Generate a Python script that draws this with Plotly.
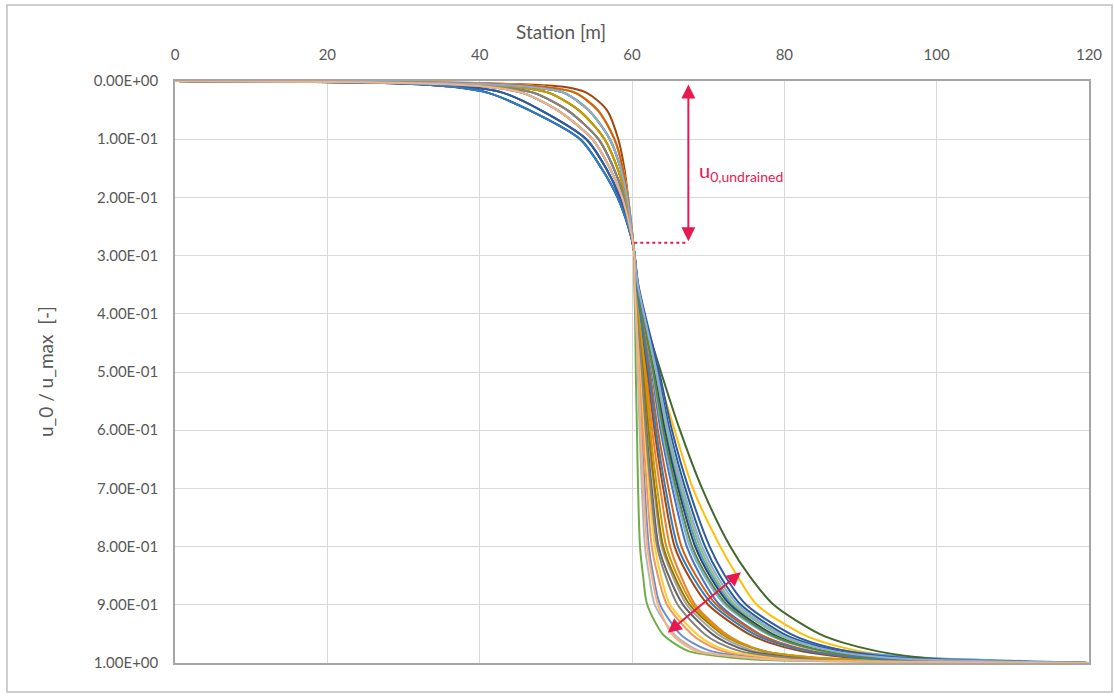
import plotly.graph_objects as go

# Ratio levels u_0/u_max at which each curve's station is recorded
levels = [0, 0.002, 0.005, 0.01, 0.02, 0.05, 0.10, 0.15, 0.20, 0.25, 0.29,
          0.35, 0.40, 0.50, 0.60, 0.70, 0.80, 0.85, 0.90, 0.95, 0.965,
          0.98, 0.99, 0.995, 1.0]

# Station [m] at which each curve reaches the levels above
s01 = [0, 22, 31, 36.5, 41, 46.5, 53.2, 56.0, 58.1, 59.5, 60.25, 60.66, 61.27, 62.6, 63.75, 65.3, 67.2, 69.0, 71.5, 76.7, 79.3, 83.5, 89.5, 95, 120]
s02 = [0, 25, 35.5, 42.5, 47, 51.5, 55.6, 57.6, 59.0, 59.8, 60.25, 60.53, 60.96, 61.85, 62.65, 63.7, 65.0, 66.4, 68.3, 72.3, 74.3, 77.5, 83.5, 91, 120]
s03 = [0, 24, 34, 41, 45.5, 50.2, 54.8, 57.1, 58.7, 59.7, 60.25, 60.47, 60.8, 61.5, 62.1, 62.9, 63.9, 65.3, 67.2, 71.2, 73.2, 76.3, 82.0, 89, 120]
s04 = [0, 29, 39.5, 46.5, 51, 54.3, 57.1, 58.5, 59.35, 59.9, 60.25, 60.7, 61.3, 63.3, 65.6, 68.0, 71.6, 73.8, 76.4, 82.3, 85.3, 90.0, 95, 100, 120]
s05 = [0, 23, 32.5, 38.5, 43, 48, 54.0, 56.6, 58.4, 59.6, 60.25, 60.73, 61.46, 63.04, 64.45, 66.3, 68.6, 70.5, 73.2, 79.5, 83.0, 88.5, 97, 107, 120]
s06 = [0, 27, 37.5, 44.5, 49, 53, 56.4, 58.1, 59.2, 59.85, 60.25, 60.31, 60.4, 60.5, 60.65, 60.8, 61.05, 61.45, 62.0, 64.0, 65.4, 67.5, 72.5, 78, 120]
s07 = [0, 22, 31, 36.5, 41, 46.5, 53.2, 56.0, 58.1, 59.5, 60.25, 60.72, 61.42, 62.94, 64.3, 66.06, 68.3, 70.2, 72.9, 78.4, 81.2, 85.6, 91.5, 98, 120]
s08 = [0, 34, 44, 51, 54, 56.7, 58.2, 59.0, 59.5, 59.95, 60.25, 60.57, 61.04, 62.05, 62.95, 64.1, 65.6, 67.4, 70.0, 75.3, 78.0, 82.3, 88, 95, 120]
s09 = [0, 24, 34, 41, 45.5, 50.2, 54.8, 57.1, 58.7, 59.7, 60.25, 60.45, 60.75, 61.36, 61.9, 62.6, 63.5, 64.8, 66.7, 70.5, 72.4, 75.5, 81.0, 88, 120]
s10 = [0, 27, 37.5, 44.5, 49, 53, 56.4, 58.1, 59.2, 59.85, 60.25, 60.48, 60.83, 61.55, 62.2, 63.0, 64.1, 65.55, 67.6, 71.8, 73.9, 77.4, 83.0, 90, 120]
s11 = [0, 23, 32.5, 38.5, 43, 48, 54.0, 56.6, 58.4, 59.6, 60.25, 60.79, 61.6, 63.37, 64.95, 67.0, 69.6, 71.55, 74.3, 79.9, 82.7, 87.3, 93, 100, 120]
s12 = [0, 25, 35.5, 42.5, 47, 51.5, 55.6, 57.6, 59.0, 59.8, 60.25, 60.75, 61.5, 63.8, 66.3, 69.2, 72.9, 75.4, 78.6, 84.6, 87.7, 92.3, 97.5, 102, 120]
s13 = [0, 29, 39.5, 46.5, 51, 54.3, 57.1, 58.5, 59.35, 59.9, 60.25, 60.38, 60.57, 60.93, 61.25, 61.67, 62.2, 62.8, 63.7, 66.3, 67.9, 70.5, 76.2, 82, 120]
s14 = [0, 31, 41.5, 48.5, 52.5, 55.5, 57.7, 58.8, 59.45, 59.92, 60.25, 60.4, 60.62, 61.06, 61.45, 61.96, 62.6, 63.4, 64.6, 67.8, 69.4, 72.0, 77.7, 84, 120]
s15 = [0, 31, 41.5, 48.5, 52.5, 55.5, 57.7, 58.8, 59.45, 59.92, 60.25, 60.35, 60.5, 60.76, 61.0, 61.3, 61.7, 62.25, 63.0, 65.5, 66.9, 69.0, 74.5, 80, 120]
s16 = [0, 31, 41.5, 48.5, 52.5, 55.5, 57.7, 58.8, 59.45, 59.92, 60.25, 60.42, 60.68, 61.2, 61.65, 62.25, 63.0, 63.8, 65.0, 68.5, 70.1, 72.8, 78.5, 85, 120]
s17 = [0, 24, 34, 41, 45.5, 50.2, 54.8, 57.1, 58.7, 59.7, 60.25, 60.68, 61.32, 62.7, 63.95, 65.56, 67.6, 69.5, 72.2, 77.7, 80.5, 85.0, 91, 98, 120]
s18 = [0, 29, 39.5, 46.5, 51, 54.3, 57.1, 58.5, 59.35, 59.9, 60.25, 60.75, 61.5, 63.14, 64.6, 66.5, 68.9, 70.8, 73.5, 79.0, 81.8, 86.3, 92.5, 100, 120]
s19 = [0, 23, 32.5, 38.5, 43, 48, 54.0, 56.6, 58.4, 59.6, 60.25, 60.83, 61.69, 63.57, 65.25, 67.43, 70.2, 72.2, 75.0, 80.8, 83.7, 88.4, 94.5, 101, 120]
s20 = [0, 31, 41.5, 48.5, 52.5, 55.5, 57.7, 58.8, 59.45, 59.92, 60.25, 60.62, 61.17, 62.35, 63.4, 64.8, 66.5, 68.4, 71.1, 76.6, 79.4, 83.8, 90, 97, 120]
s21 = [0, 25, 35.5, 42.5, 47, 51.5, 55.6, 57.6, 59.0, 59.8, 60.25, 60.44, 60.72, 61.3, 61.8, 62.45, 63.3, 64.4, 66.0, 69.5, 71.3, 74.3, 80.0, 87, 120]
s22 = [0, 27, 37.5, 44.5, 49, 53, 56.4, 58.1, 59.2, 59.85, 60.25, 60.51, 60.9, 61.7, 62.4, 63.3, 64.5, 65.95, 68.0, 72.0, 74.1, 77.5, 83.5, 91, 120]
s23 = [0, 22, 31, 36.5, 41, 46.5, 53.2, 56.0, 58.1, 59.5, 60.25, 60.59, 61.1, 62.2, 63.15, 64.4, 66.0, 67.9, 70.6, 76.0, 78.8, 83.2, 89, 96, 120]
s24 = [0, 29, 39.5, 46.5, 51, 54.3, 57.1, 58.5, 59.35, 59.9, 60.25, 60.7, 61.36, 62.8, 64.1, 65.8, 67.9, 69.8, 72.5, 78.0, 80.8, 85.3, 91.5, 99, 120]
s25 = [0, 29, 39.5, 46.5, 51, 54.3, 57.1, 58.5, 59.35, 59.9, 60.25, 60.77, 61.55, 63.25, 64.75, 66.7, 69.2, 71.15, 73.9, 79.4, 82.2, 86.7, 93, 100, 120]
s26 = [0, 24, 34, 41, 45.5, 50.2, 54.8, 57.1, 58.7, 59.7, 60.25, 60.37, 60.55, 60.86, 61.15, 61.5, 62.0, 62.6, 63.4, 65.2, 66.5, 68.5, 74.7, 81, 120]

curves = [s01, s02, s03, s04, s05, s06, s07, s08, s09, s10, s11, s12, s13,
          s14, s15, s16, s17, s18, s19, s20, s21, s22, s23, s24, s25, s26]

colors = ["#4472C4", "#ED7D31", "#A5A5A5", "#FFC000", "#5B9BD5", "#70AD47",
          "#264478", "#9E480E", "#636363", "#997300", "#255E91", "#43682B",
          "#698ED0", "#F1975A", "#B7B7B7", "#FFCD33", "#7CAFDD", "#8CC168",
          "#335AA1", "#D26012", "#848484", "#CC9A00", "#327DC2", "#5A8A39",
          "#8FAADC", "#F4B183"]

y_ticks = [0.0, 0.1, 0.2, 0.3, 0.4, 0.5, 0.6, 0.7, 0.8, 0.9, 1.0]
y_tick_text = ["0.00E+00", "1.00E-01", "2.00E-01", "3.00E-01", "4.00E-01", "5.00E-01",
               "6.00E-01", "7.00E-01", "8.00E-01", "9.00E-01", "1.00E+00"]

# Undrained pore pressure marker
u0_station = 67.4
u0_level = 0.278
u0_from = 60.3
# Spread arrow across the dissipation curves
spread_start = (64.5, 0.950)
spread_end = (74.3, 0.844)

FONT = "Lato"
TXT = "#595959"
RED = "#E8194F"

fig = go.Figure()
for stations, col in zip(curves, colors):
    fig.add_trace(go.Scatter(
        x=stations, y=levels, mode="lines",
        line=dict(color=col, width=2, shape="spline", smoothing=0.8),
        hoverinfo="skip", showlegend=False))

fig.update_layout(
    width=1114, height=696,
    margin=dict(l=175, r=25, t=81, b=33),
    paper_bgcolor="white", plot_bgcolor="white",
    font=dict(family=FONT, color=TXT, size=15),
    showlegend=False,
    xaxis=dict(
        side="top", range=[0, 120], tickvals=[0, 20, 40, 60, 80, 100, 120],
        showgrid=True, gridcolor="#D9D9D9", gridwidth=1,
        showline=True, linecolor="#A6A6A6", linewidth=1.5, mirror=True,
        zeroline=False, ticks="", ticklabelstandoff=13,
        tickfont=dict(family=FONT, color=TXT, size=15)),
    yaxis=dict(
        range=[1, 0], tickvals=y_ticks, ticktext=y_tick_text,
        showgrid=True, gridcolor="#D9D9D9", gridwidth=1,
        showline=True, linecolor="#A6A6A6", linewidth=1.5, mirror=True,
        zeroline=False, ticks="", ticklabelstandoff=12,
        tickfont=dict(family=FONT, color=TXT, size=15)),
)

# Outer chart frame
fig.add_shape(type="rect", xref="paper", yref="paper",
              x0=-0.1838, x1=1.0252, y0=-0.0498, y1=1.1306,
              line=dict(color="#BFBFBF", width=1.5), fillcolor="rgba(0,0,0,0)")

# Axis titles
fig.add_annotation(text="Station [m]", xref="paper", yref="paper",
                   x=0.4223, y=1.0842, xanchor="center", yanchor="middle",
                   showarrow=False, font=dict(family=FONT, size=19, color=TXT))
fig.add_annotation(text="u_0 / u_max \u00a0[-]", xref="paper", yref="paper",
                   x=-0.1422, y=0.5, xanchor="center", yanchor="middle",
                   textangle=-90, showarrow=False,
                   font=dict(family=FONT, size=19, color=TXT))

# Undrained marker: dotted level line and vertical double arrow
fig.add_shape(type="line", x0=u0_from, x1=u0_station, y0=u0_level, y1=u0_level,
              line=dict(color=RED, width=2, dash="dot"))
fig.add_annotation(x=u0_station, y=0.006, ax=u0_station, ay=u0_level,
                   xref="x", yref="y", axref="x", ayref="y", text="",
                   showarrow=True, arrowhead=2, startarrowhead=2,
                   arrowside="end+start", arrowsize=1.4, startarrowsize=1.4,
                   arrowwidth=2, arrowcolor=RED)
fig.add_annotation(x=68.5, y=0.155, xref="x", yref="y", xanchor="left",
                   yanchor="middle", text="u<sub>0,undrained</sub>", showarrow=False,
                   font=dict(family=FONT, size=20, color=RED))

# Spread arrow
fig.add_annotation(x=spread_end[0], y=spread_end[1], ax=spread_start[0], ay=spread_start[1],
                   xref="x", yref="y", axref="x", ayref="y", text="",
                   showarrow=True, arrowhead=2, startarrowhead=2,
                   arrowside="end+start", arrowsize=1.4, startarrowsize=1.4,
                   arrowwidth=2, arrowcolor=RED)

fig.write_html("out.html")
